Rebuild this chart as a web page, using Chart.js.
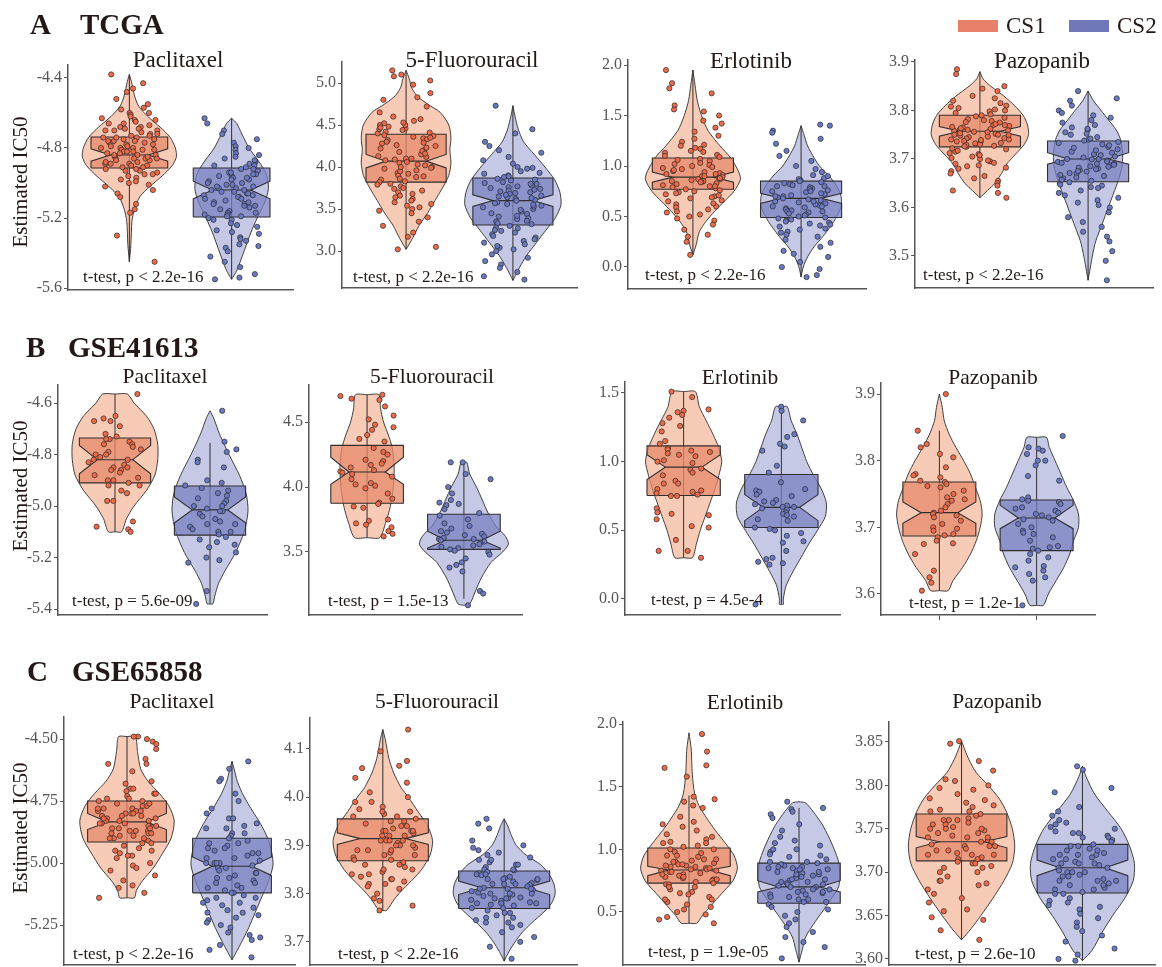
<!DOCTYPE html>
<html>
<head>
<meta charset="utf-8">
<script src="https://cdn.jsdelivr.net/npm/chart.js@4.4.0/dist/chart.umd.min.js"></script>
<style>
  body { margin: 0; background: #fff; }
  #fig { position: relative; width: 1162px; height: 967px; overflow: hidden;
         font-family: "Liberation Serif", "Times New Roman", serif; color: #231815; }
  #fig canvas { position: absolute; }
  .lbl { position: absolute; white-space: nowrap; line-height: 1; }
  .panel { font-weight: bold; font-size: 29px; }
  .drug { transform: translateX(-50%); }
  .ytitle { font-size: 21px; transform: translate(-50%, -50%) rotate(-90deg); }
  .ptext { font-size: 17px; }
  .sw { position: absolute; width: 40px; height: 12px; }
</style>
</head>
<body>
<div id="fig"></div>
<script>
// ---------------- DATA ----------------
const cohorts = ["TCGA", "GSE41613", "GSE65858"];
const drugs = ["Paclitaxel", "5-Fluorouracil", "Erlotinib", "Pazopanib"];
const groups = ["CS1", "CS2"];
const pLabels = [
  "t-test, p < 2.2e-16", "t-test, p < 2.2e-16", "t-test, p < 2.2e-16", "t-test, p < 2.2e-16",
  "t-test, p = 5.6e-09", "t-test, p = 1.5e-13", "t-test, p = 4.5e-4", "t-test, p = 1.2e-1",
  "t-test, p < 2.2e-16", "t-test, p < 2.2e-16", "t-test, p = 1.9e-05", "t-test, p = 2.6e-10"
];

// box = [lower whisker, Q1, notch low, median, notch high, Q3, upper whisker]
// violin = [value, half width (category units)] from top to bottom

// ---- TCGA / Paclitaxel ----
const tcgaPacTicks = [-5.6, -5.2, -4.8, -4.4];
const tcgaPacCS1 = [-4.38,-4.43,-4.46,-4.48,-4.52,-4.55,-4.57,-4.6,-4.61,-4.62,-4.63,-4.64,-4.65,-4.66,-4.67,-4.68,-4.69,-4.7,-4.7,-4.71,-4.72,-4.73,-4.74,-4.74,-4.75,-4.76,-4.77,-4.77,-4.78,-4.79,-4.8,-4.8,-4.81,-4.82,-4.82,-4.83,-4.84,-4.84,-4.85,-4.86,-4.86,-4.87,-4.88,-4.89,-4.89,-4.9,-4.91,-4.92,-4.93,-4.94,-4.95,-4.96,-4.98,-5.0,-5.02,-5.04,-5.06,-5.08,-5.12,-5.15,-5.17,-5.3,-5.45,
  -4.64,-4.66,-4.68,-4.7,-4.72,-4.73,-4.75,-4.76,-4.78,-4.79,-4.8,-4.81,-4.83,-4.84,-4.85,-4.86,-4.87,-4.88,-4.9,-4.91,-4.93,-4.95,-4.97,-4.99,-4.76,-4.82,-4.86,-4.89,-4.74,-4.81,-4.92,-4.69,-4.6,-4.58,-5.01];
const tcgaPacCS2 = [-4.63,-4.66,-4.7,-4.72,-4.75,-4.77,-4.79,-4.81,-4.83,-4.85,-4.86,-4.88,-4.89,-4.9,-4.91,-4.92,-4.93,-4.94,-4.95,-4.96,-4.97,-4.98,-4.99,-5.0,-5.01,-5.02,-5.03,-5.04,-5.05,-5.06,-5.07,-5.08,-5.09,-5.1,-5.11,-5.12,-5.13,-5.14,-5.16,-5.17,-5.18,-5.19,-5.2,-5.21,-5.23,-5.25,-5.27,-5.29,-5.31,-5.33,-5.35,-5.37,-5.39,-5.42,-5.45,-5.48,-5.52,-5.54,-5.55,
  -4.87,-4.9,-4.92,-4.94,-4.96,-4.98,-5.0,-5.01,-5.03,-5.04,-5.06,-5.08,-5.09,-5.11,-5.13,-5.15,-5.17,-5.19,-5.21,-5.24,-4.95,-5.02,-5.07,-5.12,-5.18,-4.84,-4.8,-5.28,-5.32,-5.36,-5.05,-4.97];
const tcgaPacBoxCS1 = [-5.45, -4.914, -4.875, -4.84, -4.805, -4.737, -4.38];
const tcgaPacBoxCS2 = [-5.55, -5.194, -5.09, -5.04, -4.99, -4.914, -4.63];
const tcgaPacViolinCS1 = [[-4.38,0],[-4.42,0.02],[-4.5,0.05],[-4.56,0.09],[-4.62,0.18],[-4.68,0.3],[-4.74,0.4],[-4.8,0.45],[-4.85,0.46],[-4.9,0.42],[-4.96,0.32],[-5.02,0.2],[-5.08,0.1],[-5.15,0.05],[-5.22,0.025],[-5.35,0.015],[-5.45,0]];
const tcgaPacViolinCS2 = [[-4.63,0],[-4.66,0.05],[-4.72,0.1],[-4.8,0.17],[-4.88,0.27],[-4.95,0.34],[-5.03,0.36],[-5.1,0.33],[-5.2,0.25],[-5.28,0.19],[-5.36,0.14],[-5.44,0.09],[-5.5,0.05],[-5.55,0]];

// ---- TCGA / 5-Fluorouracil ----
const tcgaFuTicks = [3.0, 3.5, 4.0, 4.5, 5.0];
const tcgaFuCS1 = [5.15,5.1,5.08,5.03,4.98,4.88,4.83,4.8,4.72,4.65,4.6,4.57,4.55,4.52,4.5,4.48,4.46,4.44,4.42,4.4,4.38,4.36,4.34,4.32,4.3,4.28,4.25,4.22,4.2,4.18,4.15,4.12,4.1,4.08,4.05,4.03,4.0,3.98,3.96,3.93,3.9,3.88,3.85,3.82,3.8,3.77,3.74,3.7,3.66,3.62,3.58,3.54,3.5,3.45,3.4,3.35,3.3,3.22,3.17,3.05,3.02,
  4.45,4.41,4.37,4.33,4.29,4.26,4.23,4.19,4.16,4.13,4.09,4.06,4.02,3.99,3.95,3.92,3.89,3.86,3.83,3.79,3.75,3.72,3.68,3.64,3.6,3.56,4.5,4.53,4.47,4.35,4.0,4.1,3.52,3.48];
const tcgaFuCS2 = [4.73,4.45,4.4,4.3,4.25,4.2,4.17,4.12,4.08,4.04,4.0,3.98,3.95,3.92,3.9,3.88,3.86,3.84,3.82,3.8,3.78,3.76,3.74,3.72,3.7,3.68,3.66,3.64,3.62,3.6,3.58,3.56,3.54,3.52,3.5,3.47,3.44,3.41,3.38,3.35,3.32,3.3,3.27,3.24,3.2,3.16,3.12,3.08,3.04,3.0,2.96,2.92,2.88,2.84,2.8,2.75,2.7,2.66,
  3.99,3.93,3.89,3.85,3.81,3.77,3.73,3.69,3.65,3.61,3.57,3.53,3.49,3.45,3.42,3.39,3.36,3.33,3.28,3.25,3.22,3.18,3.14,3.1,3.06,3.02,3.75,3.63,3.55,3.71,3.8,3.67];
const tcgaFuBoxCS1 = [3.02, 3.82, 3.99, 4.07, 4.15, 4.39, 5.15];
const tcgaFuBoxCS2 = [2.65, 3.31, 3.53, 3.6, 3.67, 3.87, 4.73];
const tcgaFuViolinCS1 = [[5.15,0],[5.05,0.03],[4.95,0.05],[4.85,0.1],[4.75,0.2],[4.65,0.32],[4.5,0.4],[4.35,0.42],[4.2,0.41],[4.05,0.42],[3.9,0.4],[3.75,0.34],[3.6,0.27],[3.45,0.2],[3.3,0.12],[3.15,0.06],[3.02,0]];
const tcgaFuViolinCS2 = [[4.73,0],[4.6,0.02],[4.45,0.05],[4.3,0.1],[4.15,0.2],[4.0,0.3],[3.85,0.39],[3.7,0.44],[3.55,0.45],[3.4,0.4],[3.25,0.31],[3.1,0.22],[2.95,0.13],[2.8,0.06],[2.65,0]];

// ---- TCGA / Erlotinib ----
const tcgaErlTicks = [0.0, 0.5, 1.0, 1.5, 2.0];
const tcgaErlCS1 = [1.95,1.82,1.77,1.72,1.6,1.56,1.54,1.5,1.45,1.42,1.38,1.34,1.3,1.27,1.24,1.21,1.18,1.15,1.13,1.11,1.09,1.07,1.05,1.03,1.01,0.99,0.97,0.95,0.93,0.91,0.9,0.88,0.87,0.85,0.84,0.82,0.8,0.78,0.76,0.74,0.72,0.7,0.68,0.65,0.62,0.6,0.57,0.54,0.5,0.46,0.42,0.37,0.32,0.3,0.25,0.12,
  1.2,1.17,1.14,1.1,1.06,1.02,0.98,0.96,0.94,0.92,0.9,0.89,0.87,0.86,0.84,0.83,0.81,0.79,0.77,0.75,0.73,0.71,0.69,0.66,0.63,0.59,0.55,0.52,0.48,0.88,0.92,1.0,0.8,0.85];
const tcgaErlCS2 = [1.4,1.41,1.35,1.33,1.27,1.22,1.15,1.1,1.05,1.0,0.97,0.94,0.91,0.88,0.86,0.84,0.82,0.8,0.78,0.76,0.74,0.72,0.7,0.68,0.67,0.65,0.63,0.61,0.6,0.58,0.56,0.54,0.52,0.5,0.48,0.46,0.44,0.42,0.4,0.38,0.35,0.32,0.3,0.27,0.24,0.2,0.16,0.13,0.1,0.05,0.0,-0.02,-0.08,-0.1,
  0.9,0.87,0.85,0.83,0.81,0.79,0.77,0.75,0.73,0.71,0.69,0.66,0.64,0.62,0.59,0.57,0.55,0.53,0.51,0.49,0.47,0.45,0.43,0.41,0.37,0.34,0.7,0.65,0.6,0.75,0.8,0.55];
const tcgaErlBoxCS1 = [0.12, 0.77, 0.84, 0.89, 0.94, 1.08, 1.95];
const tcgaErlBoxCS2 = [-0.1, 0.49, 0.63, 0.68, 0.73, 0.85, 1.4];
const tcgaErlViolinCS1 = [[1.95,0],[1.8,0.02],[1.65,0.04],[1.5,0.08],[1.35,0.14],[1.2,0.25],[1.08,0.35],[0.95,0.42],[0.87,0.44],[0.75,0.38],[0.65,0.29],[0.55,0.2],[0.45,0.12],[0.35,0.06],[0.22,0.03],[0.12,0]];
const tcgaErlViolinCS2 = [[1.4,0],[1.3,0.03],[1.2,0.06],[1.1,0.11],[1.0,0.17],[0.9,0.26],[0.8,0.33],[0.7,0.37],[0.6,0.37],[0.5,0.33],[0.4,0.27],[0.3,0.2],[0.2,0.12],[0.1,0.06],[0.0,0.02],[-0.1,0]];

// ---- TCGA / Pazopanib ----
const tcgaPazTicks = [3.5, 3.6, 3.7, 3.8, 3.9];
const tcgaPazCS1 = [3.885,3.875,3.85,3.845,3.84,3.83,3.825,3.82,3.815,3.81,3.805,3.8,3.795,3.79,3.785,3.78,3.778,3.775,3.77,3.768,3.765,3.762,3.76,3.758,3.755,3.752,3.75,3.748,3.745,3.742,3.74,3.737,3.735,3.732,3.73,3.727,3.725,3.72,3.715,3.71,3.705,3.7,3.695,3.69,3.685,3.68,3.675,3.67,3.665,3.66,3.655,3.65,3.645,3.635,3.63,3.62,
  3.808,3.802,3.798,3.792,3.788,3.782,3.776,3.772,3.766,3.763,3.759,3.756,3.753,3.749,3.746,3.743,3.739,3.736,3.733,3.729,3.726,3.722,3.717,3.712,3.708,3.702,3.697,3.692,3.687,3.682,3.76,3.75,3.74,3.77];
const tcgaPazCS2 = [3.84,3.825,3.82,3.81,3.8,3.795,3.79,3.785,3.78,3.775,3.77,3.765,3.76,3.755,3.75,3.745,3.74,3.735,3.73,3.725,3.72,3.715,3.71,3.705,3.7,3.697,3.694,3.69,3.687,3.684,3.68,3.677,3.674,3.67,3.665,3.66,3.655,3.65,3.645,3.64,3.63,3.62,3.61,3.6,3.59,3.58,3.57,3.56,3.55,3.54,3.53,3.51,3.49,3.45,
  3.762,3.752,3.742,3.738,3.733,3.728,3.723,3.718,3.713,3.708,3.703,3.699,3.695,3.692,3.688,3.685,3.682,3.679,3.675,3.671,3.667,3.662,3.657,3.652,3.647,3.642,3.635,3.625,3.615,3.605,3.7,3.69];
const tcgaPazBoxCS1 = [3.62, 3.725, 3.747, 3.757, 3.767, 3.79, 3.88];
const tcgaPazBoxCS2 = [3.45, 3.653, 3.689, 3.70, 3.713, 3.737, 3.84];
const tcgaPazViolinCS1 = [[3.88,0],[3.865,0.03],[3.85,0.1],[3.83,0.22],[3.81,0.32],[3.79,0.4],[3.77,0.44],[3.75,0.45],[3.73,0.41],[3.71,0.33],[3.69,0.25],[3.67,0.2],[3.65,0.14],[3.635,0.07],[3.62,0]];
const tcgaPazViolinCS2 = [[3.84,0],[3.82,0.05],[3.8,0.12],[3.78,0.19],[3.76,0.26],[3.74,0.3],[3.71,0.32],[3.68,0.31],[3.65,0.27],[3.62,0.22],[3.59,0.17],[3.56,0.12],[3.53,0.07],[3.5,0.04],[3.45,0]];

// ---- GSE41613 / Paclitaxel ----
const g416PacTicks = [-5.4, -5.2, -5.0, -4.8, -4.6];
const g416PacCS1 = [-4.565,-4.66,-4.67,-4.65,-4.67,-4.69,-4.72,-4.73,-4.74,-4.74,-4.75,-4.76,-4.76,-4.77,-4.78,-4.79,-4.8,-4.8,-4.81,-4.82,-4.82,-4.83,-4.84,-4.85,-4.85,-4.86,-4.86,-4.87,-4.88,-4.89,-4.9,-4.9,-4.91,-4.92,-4.92,-4.94,-4.95,-4.98,-4.98,-5.06,-5.08,-5.09,-5.1];
const g416PacCS2 = [-4.63,-4.75,-4.78,-4.79,-4.82,-4.83,-4.85,-4.9,-4.91,-4.92,-4.93,-4.94,-4.95,-4.96,-4.97,-4.98,-4.99,-5.0,-5.0,-5.01,-5.02,-5.02,-5.03,-5.04,-5.05,-5.06,-5.07,-5.07,-5.08,-5.09,-5.1,-5.1,-5.11,-5.12,-5.13,-5.14,-5.15,-5.16,-5.18,-5.2,-5.21,-5.22,-5.33,-5.38];
const g416PacBoxCS1 = [-5.1, -4.91, -4.875, -4.82, -4.765, -4.736, -4.565];
const g416PacBoxCS2 = [-5.38, -5.113, -5.065, -5.015, -4.965, -4.922, -4.755];
const g416PacViolinCS1 = [[-4.565,0],[-4.565,0.13],[-4.6,0.2],[-4.65,0.33],[-4.7,0.41],[-4.76,0.45],[-4.82,0.45],[-4.88,0.42],[-4.94,0.33],[-5.0,0.2],[-5.05,0.12],[-5.1,0.07],[-5.1,0]];
const g416PacViolinCS2 = [[-4.63,0],[-4.66,0.04],[-4.72,0.1],[-4.8,0.2],[-4.88,0.31],[-4.95,0.38],[-5.02,0.4],[-5.1,0.36],[-5.18,0.27],[-5.25,0.16],[-5.3,0.09],[-5.35,0.05],[-5.38,0.03],[-5.38,0]];

// ---- GSE41613 / 5-Fluorouracil ----
const g416FuTicks = [3.5, 4.0, 4.5];
const g416FuCS1 = [4.71,4.7,4.68,4.67,4.62,4.55,4.52,4.48,4.46,4.44,4.4,4.37,4.35,4.3,4.27,4.25,4.21,4.2,4.18,4.17,4.15,4.13,4.12,4.11,4.1,4.08,4.06,4.03,4.02,4.01,3.99,3.95,3.91,3.88,3.87,3.85,3.84,3.75,3.74,3.72,3.71,3.69,3.66,3.64,3.62];
const g416FuCS2 = [4.19,4.19,4.1,4.06,4.0,3.95,3.9,3.88,3.87,3.86,3.83,3.8,3.78,3.75,3.72,3.7,3.68,3.66,3.65,3.64,3.63,3.62,3.61,3.6,3.6,3.59,3.58,3.57,3.56,3.55,3.54,3.53,3.52,3.51,3.5,3.48,3.45,3.42,3.4,3.38,3.35,3.2,3.18,3.09];
const g416FuBoxCS1 = [3.61, 3.875, 4.02, 4.115, 4.23, 4.32, 4.71];
const g416FuBoxCS2 = [3.14, 3.52, 3.53, 3.59, 3.66, 3.79, 4.19];
const g416FuViolinCS1 = [[4.71,0],[4.71,0.12],[4.6,0.14],[4.5,0.17],[4.4,0.22],[4.3,0.26],[4.15,0.28],[4.0,0.27],[3.85,0.24],[3.72,0.19],[3.61,0.13],[3.61,0]];
const g416FuViolinCS2 = [[4.19,0],[4.19,0.03],[4.1,0.06],[4.0,0.13],[3.9,0.19],[3.8,0.25],[3.7,0.33],[3.62,0.43],[3.56,0.46],[3.5,0.4],[3.42,0.28],[3.3,0.18],[3.2,0.12],[3.1,0.06],[3.09,0]];

// ---- GSE41613 / Erlotinib ----
const g416ErlTicks = [0.0, 0.5, 1.0, 1.5];
const g416ErlCS1 = [1.51,1.47,1.38,1.37,1.36,1.34,1.32,1.28,1.26,1.22,1.15,1.13,1.1,1.09,1.08,1.07,1.06,1.05,1.04,1.01,1.0,0.99,0.95,0.94,0.92,0.9,0.86,0.84,0.84,0.8,0.79,0.78,0.77,0.76,0.75,0.75,0.66,0.63,0.62,0.61,0.58,0.53,0.52,0.43,0.35,0.35,0.3];
const g416ErlCS2 = [1.4,1.37,1.3,1.2,1.18,1.13,1.11,1.08,0.97,0.92,0.85,0.8,0.79,0.78,0.76,0.75,0.72,0.71,0.7,0.69,0.68,0.67,0.67,0.66,0.65,0.63,0.62,0.61,0.6,0.58,0.57,0.52,0.51,0.5,0.48,0.46,0.42,0.41,0.35,0.3,0.29,0.27,0.26,0.25,-0.04];
const g416ErlBoxCS1 = [0.3, 0.753, 0.87, 0.96, 1.05, 1.115, 1.51];
const g416ErlBoxCS2 = [-0.04, 0.52, 0.57, 0.667, 0.76, 0.906, 1.4];
const g416ErlViolinCS1 = [[1.51,0],[1.51,0.12],[1.4,0.16],[1.3,0.23],[1.2,0.3],[1.1,0.36],[1.0,0.39],[0.9,0.36],[0.8,0.32],[0.7,0.27],[0.6,0.22],[0.5,0.17],[0.4,0.13],[0.3,0.09],[0.3,0]];
const g416ErlViolinCS2 = [[1.4,0],[1.4,0.06],[1.3,0.1],[1.2,0.16],[1.1,0.21],[1.0,0.26],[0.9,0.33],[0.8,0.41],[0.7,0.46],[0.6,0.45],[0.5,0.37],[0.4,0.28],[0.3,0.2],[0.2,0.12],[0.1,0.05],[0.0,0.02],[-0.04,0.02],[-0.04,0]];

// ---- GSE41613 / Pazopanib ----
const g416PazTicks = [3.6, 3.7, 3.8, 3.9];
const g416PazCS1 = [3.9,3.845,3.825,3.82,3.81,3.805,3.79,3.78,3.778,3.775,3.77,3.768,3.765,3.762,3.76,3.755,3.75,3.745,3.742,3.74,3.735,3.73,3.725,3.722,3.72,3.718,3.715,3.71,3.705,3.7,3.698,3.695,3.69,3.688,3.685,3.68,3.676,3.675,3.66,3.635,3.625,3.617,3.605];
const g416PazCS2 = [3.837,3.82,3.818,3.815,3.81,3.8,3.8,3.793,3.777,3.77,3.745,3.742,3.74,3.738,3.735,3.73,3.728,3.725,3.722,3.72,3.718,3.715,3.712,3.71,3.705,3.7,3.695,3.692,3.69,3.685,3.68,3.672,3.67,3.668,3.665,3.66,3.655,3.65,3.642,3.64,3.635,3.63,3.625,3.62,3.583];
const g416PazBoxCS1 = [3.605, 3.687, 3.706, 3.722, 3.738, 3.768, 3.845];
const g416PazBoxCS2 = [3.583, 3.665, 3.698, 3.714, 3.733, 3.741, 3.835];
const g416PazViolinCS1 = [[3.9,0],[3.88,0.03],[3.86,0.05],[3.84,0.1],[3.82,0.17],[3.8,0.25],[3.78,0.32],[3.76,0.37],[3.74,0.42],[3.72,0.44],[3.7,0.42],[3.68,0.38],[3.66,0.32],[3.64,0.24],[3.62,0.14],[3.605,0.09],[3.605,0]];
const g416PazViolinCS2 = [[3.835,0],[3.835,0.1],[3.82,0.13],[3.8,0.19],[3.78,0.25],[3.76,0.31],[3.74,0.38],[3.72,0.43],[3.7,0.43],[3.68,0.38],[3.66,0.34],[3.64,0.28],[3.62,0.2],[3.6,0.12],[3.583,0.07],[3.583,0]];

// ---- GSE65858 / Paclitaxel ----
const g658PacTicks = [-5.25, -5.0, -4.75, -4.5];
const g658PacCS1 = [-4.49,-4.49,-4.5,-4.51,-4.52,-4.54,-4.58,-4.6,-4.6,-4.63,-4.67,-4.68,-4.7,-4.71,-4.72,-4.72,-4.73,-4.74,-4.75,-4.75,-4.76,-4.77,-4.77,-4.78,-4.78,-4.79,-4.79,-4.8,-4.8,-4.81,-4.81,-4.82,-4.82,-4.83,-4.83,-4.84,-4.84,-4.85,-4.85,-4.86,-4.86,-4.87,-4.87,-4.88,-4.88,-4.89,-4.9,-4.9,-4.91,-4.92,-4.93,-4.94,-4.95,-4.96,-4.97,-4.98,-5.0,-5.01,-5.03,-5.05,-5.07,-5.09,-5.1,-5.12,-5.14,
  -4.76,-4.79,-4.81,-4.83,-4.85,-4.87,-4.89,-4.8,-4.82,-4.84,-4.86,-4.88,-4.9,-4.92,-4.74,-4.78,-4.95,-4.97,-4.7,-5.02];
const g658PacCS2 = [-4.59,-4.62,-4.66,-4.67,-4.72,-4.75,-4.78,-4.8,-4.82,-4.84,-4.85,-4.86,-4.88,-4.89,-4.9,-4.91,-4.92,-4.93,-4.94,-4.95,-4.96,-4.97,-4.98,-4.99,-5.0,-5.0,-5.01,-5.02,-5.03,-5.04,-5.05,-5.06,-5.07,-5.08,-5.09,-5.1,-5.11,-5.12,-5.13,-5.14,-5.15,-5.16,-5.17,-5.18,-5.19,-5.2,-5.21,-5.22,-5.23,-5.25,-5.26,-5.28,-5.29,-5.31,-5.33,-5.35,-5.38,
  -4.92,-4.94,-4.96,-4.98,-5.0,-5.02,-5.04,-5.06,-5.08,-5.1,-5.12,-4.88,-4.86,-5.14,-5.16,-5.2,-5.24,-4.82,-5.3,-5.0];
const g658PacBoxCS1 = [-5.14, -4.915, -4.865, -4.834, -4.80, -4.75, -4.49];
const g658PacBoxCS2 = [-5.39, -5.12, -5.05, -5.013, -4.975, -4.90, -4.59];
const g658PacViolinCS1 = [[-4.49,0],[-4.49,0.08],[-4.55,0.1],[-4.62,0.13],[-4.67,0.2],[-4.72,0.31],[-4.77,0.4],[-4.83,0.45],[-4.9,0.42],[-4.96,0.34],[-5.02,0.25],[-5.07,0.15],[-5.11,0.09],[-5.14,0.07],[-5.14,0]];
const g658PacViolinCS2 = [[-4.59,0],[-4.62,0.02],[-4.67,0.05],[-4.72,0.1],[-4.78,0.18],[-4.84,0.27],[-4.9,0.34],[-4.96,0.38],[-5.01,0.39],[-5.07,0.35],[-5.13,0.29],[-5.2,0.22],[-5.26,0.16],[-5.32,0.09],[-5.36,0.04],[-5.39,0]];

// ---- GSE65858 / 5-Fluorouracil ----
const g658FuTicks = [3.7, 3.8, 3.9, 4.0, 4.1];
const g658FuCS1 = [4.14,4.095,4.075,4.065,4.06,4.04,4.03,4.01,4.0,3.99,3.98,3.975,3.97,3.965,3.96,3.955,3.95,3.945,3.94,3.935,3.93,3.93,3.925,3.92,3.92,3.915,3.91,3.91,3.905,3.9,3.9,3.895,3.89,3.885,3.88,3.875,3.87,3.865,3.86,3.855,3.85,3.845,3.84,3.835,3.83,3.825,3.82,3.815,3.81,3.8,3.79,3.785,3.775,3.765,
  3.96,3.94,3.93,3.92,3.91,3.9,3.89,3.88,3.87,3.86,3.93,3.91,3.89,3.95,3.97,3.85,3.84,3.83,3.82,3.99];
const g658FuCS2 = [3.955,3.945,3.935,3.91,3.9,3.895,3.89,3.885,3.88,3.875,3.87,3.865,3.86,3.855,3.85,3.848,3.845,3.842,3.84,3.838,3.835,3.832,3.83,3.828,3.825,3.822,3.82,3.818,3.815,3.812,3.81,3.808,3.805,3.802,3.8,3.798,3.795,3.792,3.79,3.787,3.785,3.782,3.78,3.777,3.775,3.77,3.765,3.76,3.755,3.75,3.745,3.74,3.735,3.73,3.72,3.71,3.7,3.69,3.665,
  3.86,3.84,3.83,3.82,3.81,3.8,3.79,3.78,3.77,3.76,3.82,3.8,3.78,3.85,3.87,3.83,3.81,3.79,3.75,3.74];
const g658FuBoxCS1 = [3.765, 3.868, 3.902, 3.914, 3.926, 3.955, 4.14];
const g658FuBoxCS2 = [3.66, 3.769, 3.798, 3.812, 3.826, 3.847, 3.955];
const g658FuViolinCS1 = [[4.14,0],[4.12,0.02],[4.08,0.05],[4.05,0.09],[4.02,0.15],[4.0,0.21],[3.97,0.29],[3.94,0.37],[3.91,0.41],[3.88,0.39],[3.85,0.32],[3.83,0.25],[3.81,0.17],[3.79,0.1],[3.765,0.03],[3.765,0]];
const g658FuViolinCS2 = [[3.955,0],[3.94,0.03],[3.92,0.06],[3.9,0.1],[3.88,0.18],[3.86,0.3],[3.84,0.37],[3.82,0.41],[3.8,0.42],[3.78,0.39],[3.76,0.32],[3.74,0.23],[3.72,0.15],[3.7,0.09],[3.68,0.04],[3.66,0]];

// ---- GSE65858 / Erlotinib ----
const g658ErlTicks = [0.5, 1.0, 1.5, 2.0];
const g658ErlCS1 = [1.92,1.78,1.67,1.65,1.58,1.42,1.4,1.38,1.35,1.33,1.26,1.22,1.2,1.18,1.15,1.12,1.1,1.08,1.06,1.05,1.03,1.02,1.0,0.98,0.97,0.95,0.94,0.92,0.91,0.9,0.89,0.88,0.87,0.86,0.85,0.84,0.83,0.82,0.81,0.8,0.79,0.78,0.77,0.76,0.75,0.73,0.72,0.7,0.68,0.66,0.64,0.62,0.6,0.58,0.56,0.54,0.52,0.5,0.48,0.46,0.44,0.41,
  0.95,0.92,0.9,0.88,0.86,0.84,0.82,0.8,0.78,0.76,0.74,0.72,0.7,0.87,0.85,0.83,1.0,1.05,0.65,0.6];
const g658ErlCS2 = [1.38,1.33,1.32,1.3,1.28,1.25,1.2,1.15,1.1,1.07,1.05,1.03,1.0,0.98,0.96,0.94,0.92,0.9,0.89,0.88,0.87,0.86,0.85,0.84,0.83,0.82,0.81,0.8,0.79,0.78,0.77,0.76,0.75,0.74,0.73,0.72,0.71,0.7,0.69,0.68,0.67,0.66,0.65,0.64,0.62,0.6,0.58,0.56,0.54,0.52,0.5,0.47,0.44,0.41,0.38,0.34,0.3,0.26,0.22,0.13,
  0.9,0.88,0.86,0.84,0.82,0.8,0.78,0.76,0.74,0.72,0.7,0.68,0.66,0.64,0.62,0.95,1.0,0.6,0.58,0.85];
const g658ErlBoxCS1 = [0.41, 0.73, 0.79, 0.835, 0.865, 1.01, 1.43];
const g658ErlBoxCS2 = [0.1, 0.57, 0.66, 0.70, 0.75, 0.89, 1.33];
const g658ErlViolinCS1 = [[1.93,0],[1.8,0.02],[1.6,0.03],[1.45,0.05],[1.35,0.09],[1.25,0.16],[1.15,0.24],[1.05,0.33],[0.95,0.41],[0.85,0.44],[0.75,0.4],[0.65,0.3],[0.55,0.2],[0.47,0.12],[0.41,0.07],[0.41,0]];
const g658ErlViolinCS2 = [[1.38,0],[1.37,0.06],[1.3,0.13],[1.2,0.21],[1.1,0.27],[1.0,0.32],[0.9,0.36],[0.8,0.37],[0.7,0.36],[0.6,0.29],[0.5,0.21],[0.4,0.13],[0.3,0.06],[0.2,0.03],[0.1,0]];

// ---- GSE65858 / Pazopanib ----
const g658PazTicks = [3.6, 3.65, 3.7, 3.75, 3.8, 3.85];
const g658PazCS1 = [3.851,3.848,3.828,3.817,3.807,3.805,3.8,3.797,3.795,3.79,3.785,3.783,3.78,3.777,3.775,3.772,3.77,3.767,3.765,3.762,3.76,3.757,3.755,3.752,3.75,3.748,3.745,3.742,3.74,3.737,3.735,3.732,3.73,3.727,3.725,3.722,3.72,3.717,3.715,3.712,3.71,3.707,3.705,3.7,3.695,3.69,3.687,3.685,3.68,3.675,3.67,3.665,3.657,3.655,3.648,3.645,3.633,3.622,
  3.76,3.755,3.75,3.745,3.74,3.735,3.73,3.725,3.72,3.715,3.71,3.705,3.75,3.74,3.73,3.72,3.76,3.77,3.7,3.69];
const g658PazCS2 = [3.822,3.818,3.797,3.792,3.775,3.77,3.765,3.76,3.757,3.755,3.752,3.75,3.747,3.745,3.742,3.74,3.737,3.735,3.732,3.73,3.727,3.725,3.722,3.72,3.717,3.715,3.712,3.71,3.708,3.705,3.702,3.7,3.697,3.695,3.692,3.69,3.687,3.685,3.682,3.68,3.677,3.675,3.67,3.667,3.662,3.657,3.652,3.647,3.642,3.637,3.632,3.627,3.62,3.612,3.605,3.6,3.598,
  3.73,3.725,3.72,3.715,3.71,3.705,3.7,3.695,3.69,3.685,3.68,3.675,3.72,3.71,3.7,3.69,3.74,3.745,3.665,3.66];
const g658PazBoxCS1 = [3.622, 3.713, 3.728, 3.735, 3.741, 3.767, 3.85];
const g658PazBoxCS2 = [3.598, 3.676, 3.696, 3.705, 3.714, 3.732, 3.822];
const g658PazViolinCS1 = [[3.851,0],[3.84,0.03],[3.83,0.06],[3.815,0.12],[3.8,0.22],[3.785,0.31],[3.77,0.37],[3.75,0.42],[3.73,0.44],[3.71,0.42],[3.69,0.35],[3.67,0.26],[3.65,0.16],[3.635,0.08],[3.622,0]];
const g658PazViolinCS2 = [[3.822,0],[3.81,0.03],[3.79,0.1],[3.77,0.21],[3.75,0.32],[3.73,0.39],[3.71,0.43],[3.69,0.42],[3.67,0.35],[3.65,0.25],[3.63,0.16],[3.61,0.08],[3.598,0]];

// ---------------- LAYOUT ----------------
// area = [axis left, top, right, bottom] in page pixels, y = axis range
const panels = [
  { area: [68, 65, 293, 290], y: [-5.611, -4.326], dec: 1, ticks: tcgaPacTicks, pts: [tcgaPacCS1, tcgaPacCS2], box: [tcgaPacBoxCS1, tcgaPacBoxCS2], vio: [tcgaPacViolinCS1, tcgaPacViolinCS2], tx: 178, ty: 59, px: 83, py: 276 },
  { area: [342, 62, 577, 288], y: [2.56, 5.25], dec: 1, ticks: tcgaFuTicks, pts: [tcgaFuCS1, tcgaFuCS2], box: [tcgaFuBoxCS1, tcgaFuBoxCS2], vio: [tcgaFuViolinCS1, tcgaFuViolinCS2], tx: 472, ty: 59, px: 353, py: 276 },
  { area: [628, 60, 866, 289], y: [-0.218, 2.05], dec: 1, ticks: tcgaErlTicks, pts: [tcgaErlCS1, tcgaErlCS2], box: [tcgaErlBoxCS1, tcgaErlBoxCS2], vio: [tcgaErlViolinCS1, tcgaErlViolinCS2], tx: 751, ty: 60, px: 645, py: 274 },
  { area: [915, 60, 1153, 288], y: [3.434, 3.904], dec: 1, ticks: tcgaPazTicks, pts: [tcgaPazCS1, tcgaPazCS2], box: [tcgaPazBoxCS1, tcgaPazBoxCS2], vio: [tcgaPazViolinCS1, tcgaPazViolinCS2], tx: 1042, ty: 60, px: 923, py: 274 },

  { area: [58, 385, 267, 615], y: [-5.423, -4.53], dec: 1, ticks: g416PacTicks, pts: [g416PacCS1, g416PacCS2], box: [g416PacBoxCS1, g416PacBoxCS2], vio: [g416PacViolinCS1, g416PacViolinCS2], tx: 165, ty: 377, px: 72, py: 600 },
  { area: [309, 385, 522, 615], y: [3.015, 4.785], dec: 1, ticks: g416FuTicks, pts: [g416FuCS1, g416FuCS2], box: [g416FuBoxCS1, g416FuBoxCS2], vio: [g416FuViolinCS1, g416FuViolinCS2], tx: 432, ty: 377, px: 328, py: 600 },
  { area: [625, 382, 840, 615], y: [-0.117, 1.58], dec: 1, ticks: g416ErlTicks, pts: [g416ErlCS1, g416ErlCS2], box: [g416ErlBoxCS1, g416ErlBoxCS2], vio: [g416ErlViolinCS1, g416ErlViolinCS2], tx: 740, ty: 378, px: 651, py: 599 },
  { area: [881, 383, 1095, 615], y: [3.5685, 3.9165], dec: 1, ticks: g416PazTicks, pts: [g416PazCS1, g416PazCS2], box: [g416PazBoxCS1, g416PazBoxCS2], vio: [g416PazViolinCS1, g416PazViolinCS2], tx: 993, ty: 378, px: 909, py: 602, xTicks: true },

  { area: [64, 717, 295, 965], y: [-5.411, -4.411], dec: 2, ticks: g658PacTicks, pts: [g658PacCS1, g658PacCS2], box: [g658PacBoxCS1, g658PacBoxCS2], vio: [g658PacViolinCS1, g658PacViolinCS2], tx: 172, ty: 702, px: 73, py: 953 },
  { area: [310, 718, 577, 965], y: [3.652, 4.164], dec: 1, ticks: g658FuTicks, pts: [g658FuCS1, g658FuCS2], box: [g658FuBoxCS1, g658FuBoxCS2], vio: [g658FuViolinCS1, g658FuViolinCS2], tx: 437, ty: 702, px: 338, py: 953 },
  { area: [623, 722, 865, 965], y: [0.077, 2.016], dec: 1, ticks: g658ErlTicks, pts: [g658ErlCS1, g658ErlCS2], box: [g658ErlBoxCS1, g658ErlBoxCS2], vio: [g658ErlViolinCS1, g658ErlViolinCS2], tx: 745, ty: 703, px: 648, py: 951 },
  { area: [889, 722, 1155, 965], y: [3.593, 3.873], dec: 2, ticks: g658PazTicks, pts: [g658PazCS1, g658PazCS2], box: [g658PazBoxCS1, g658PazBoxCS2], vio: [g658PazViolinCS1, g658PazViolinCS2], tx: 997, ty: 702, px: 915, py: 953 }
];

// ---------------- STYLE ----------------
const violinFill = ["#f8cbb7", "#c6c9e5"];
const boxFill = ["rgba(232,138,105,0.75)", "rgba(120,127,192,0.75)"];
const pointFill = ["#ee6a48", "#6b79c4"];
const swatchFill = ["#e8806a", "#7078ba"];
const edge = "#2f2f2f";
const axisColor = "#555";
const BOX_HALF = 0.375;
const JITTER = 0.28;

const fig = document.getElementById("fig");

function addText(text, cls, left, top, extra) {
  const d = document.createElement("div");
  d.className = "lbl " + cls;
  d.textContent = text;
  d.style.left = left + "px";
  d.style.top = top + "px";
  if (extra) Object.assign(d.style, extra);
  fig.appendChild(d);
}

// display jitter only (horizontal spread of the dots)
function jitter(i, seed) {
  const s = Math.sin(i * 12.9898 + seed * 78.233) * 43758.5453;
  return (s - Math.floor(s)) - 0.5;
}

function violinShape(prof, c) {
  const right = prof.map(([v, w]) => ({ x: c + w, y: v }));
  const left = prof.slice().reverse().map(([v, w]) => ({ x: c - w, y: v }));
  const pts = right.concat(left);
  pts.push(pts[0]);
  return pts;
}

function boxShape(b, c) {
  const [lo, q1, nl, md, nh, q3, hi] = b;
  const w = BOX_HALF, n = BOX_HALF / 2;
  return [
    { x: c - w, y: q1 }, { x: c - w, y: nl }, { x: c - n, y: md }, { x: c - w, y: nh },
    { x: c - w, y: q3 }, { x: c + w, y: q3 }, { x: c + w, y: nh }, { x: c + n, y: md },
    { x: c + w, y: nl }, { x: c + w, y: q1 }, { x: c - w, y: q1 }
  ];
}

function makePanel(p, idx) {
  const [L, T, R, B] = p.area;
  const padTop = 16, padBottom = 16, yw = 60, padRight = 8;
  const xh = p.xTicks ? 6 : 0;
  const canvas = document.createElement("canvas");
  const W = R - L + yw + padRight;
  const H = B - T + padTop + padBottom + xh;
  canvas.width = W; canvas.height = H;
  canvas.style.left = (L - yw) + "px";
  canvas.style.top = (T - padTop) + "px";
  fig.appendChild(canvas);

  const datasets = [];
  groups.forEach((g, gi) => {
    const c = gi + 1;
    const b = p.box[gi];
    datasets.push({
      label: g + " points", order: 0, showLine: false, clip: false,
      data: p.pts[gi].map((v, i) => ({ x: c + jitter(i, idx * 2 + gi + 1) * 2 * JITTER, y: v })),
      pointRadius: 2.6, pointBackgroundColor: pointFill[gi], pointBorderColor: "#2a2a2a", pointBorderWidth: 0.7
    });
    datasets.push({
      label: g + " median", order: 1, data: [{ x: c - BOX_HALF / 2, y: b[3] }, { x: c + BOX_HALF / 2, y: b[3] }],
      borderColor: edge, borderWidth: 1.1, pointRadius: 0, fill: false
    });
    datasets.push({
      label: g + " box", order: 2, data: boxShape(b, c),
      borderColor: edge, borderWidth: 1.1, backgroundColor: boxFill[gi], pointRadius: 0, fill: "shape", tension: 0
    });
    datasets.push({
      label: g + " whisker", order: 3, data: [{ x: c, y: b[0] }, { x: c, y: b[6] }],
      borderColor: edge, borderWidth: 1, pointRadius: 0, fill: false
    });
    datasets.push({
      label: g + " violin", order: 4, data: violinShape(p.vio[gi], c),
      borderColor: edge, borderWidth: 0.9, backgroundColor: violinFill[gi], pointRadius: 0, fill: "shape", tension: 0.25
    });
  });

  new Chart(canvas, {
    type: "line",
    data: { datasets },
    options: {
      responsive: false, animation: false, devicePixelRatio: 1,
      layout: { padding: { top: padTop, bottom: padBottom, left: 0, right: padRight } },
      plugins: { legend: { display: false }, tooltip: { enabled: false } },
      scales: {
        x: {
          type: "linear", min: 0.4, max: 2.6,
          afterFit: (s) => { s.height = xh; },
          afterBuildTicks: (s) => { s.ticks = [{ value: 1 }, { value: 2 }]; },
          ticks: { display: false },
          grid: p.xTicks
            ? { display: true, drawOnChartArea: false, drawTicks: true, tickLength: 5, color: axisColor }
            : { display: false, drawTicks: false },
          border: { display: true, color: axisColor, width: 1.5 }
        },
        y: {
          type: "linear", min: p.y[0], max: p.y[1],
          afterFit: (s) => { s.width = yw; },
          afterBuildTicks: (s) => { s.ticks = p.ticks.map(v => ({ value: v })); },
          ticks: {
            padding: 2, color: "#555",
            font: { family: "Liberation Serif", size: 16 },
            callback: (v) => Number(v).toFixed(p.dec)
          },
          grid: { display: true, drawOnChartArea: false, drawTicks: true, tickLength: 4, color: axisColor },
          border: { display: true, color: axisColor, width: 1.5 }
        }
      }
    }
  });

  const row = Math.floor(idx / 4);
  addText(drugs[idx % 4], "drug", p.tx, p.ty - (row === 0 ? 11.5 : 10.8), { fontSize: row === 0 ? "23px" : "21.5px" });
  addText(pLabels[idx], "ptext", p.px, p.py - 8.5);
}

panels.forEach(makePanel);

// ---------------- HEADINGS / LEGEND ----------------
const headingTops = [10, 333, 657];
const letterX = [30, 26, 27];
const nameX = [80, 68, 72];
["A", "B", "C"].forEach((l, i) => {
  addText(l, "panel", letterX[i], headingTops[i]);
  addText(cohorts[i], "panel", nameX[i], headingTops[i]);
});

[182, 486, 828].forEach(cy => addText("Estimated IC50", "ytitle", 20, cy));

const swatchX = [958, 1069];
groups.forEach((g, i) => {
  const s = document.createElement("div");
  s.className = "sw";
  s.style.left = swatchX[i] + "px";
  s.style.top = "20px";
  s.style.background = swatchFill[i];
  fig.appendChild(s);
  addText(g, "", swatchX[i] + 48, 14, { fontSize: "23px" });
});
</script>
</body>
</html>
